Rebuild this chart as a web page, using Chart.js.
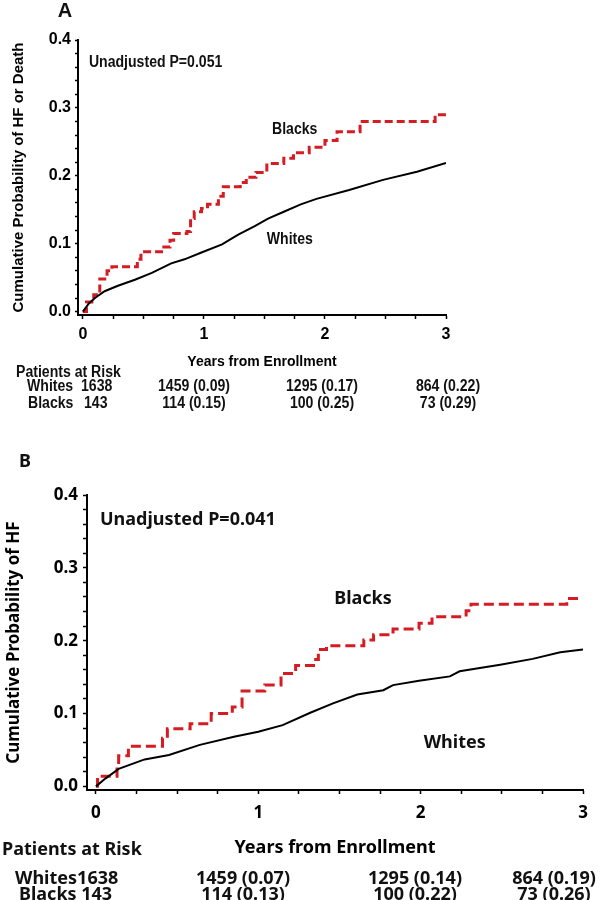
<!DOCTYPE html>
<html>
<head>
<meta charset="utf-8">
<script src="https://cdn.jsdelivr.net/npm/chart.js@4.4.1/dist/chart.umd.min.js"></script>
<style>
  html, body { margin: 0; padding: 0; background: #fff; }
  #page { position: relative; width: 600px; height: 900px; overflow: hidden; }
  canvas { position: absolute; left: 0; }
  .t { position: absolute; white-space: nowrap; line-height: 20px; height: 20px; color: #111; }
  .fa { font-family: 'Liberation Sans', Arial, sans-serif; font-weight: bold; font-size: 16px; }
  .fb { font-family: 'Noto Sans', sans-serif; font-weight: bold; font-size: 18px; }
  .c { transform: translateX(-50%); }
  .fa.sq { transform-origin: 0 50%; transform: scaleX(0.88); }
  .fa.sq.c { transform-origin: 50% 50%; transform: translateX(-50%) scaleX(0.88); }
</style>
</head>
<body>
<div id="page">
  <canvas id="chartA" width="600" height="420" style="top:0"></canvas>
  <canvas id="chartB" width="600" height="460" style="top:440px"></canvas>
</div>
<script>
// panel A: HF or death
const aBlacksT = [0, 0.03, 0.09, 0.14, 0.2, 0.24, 0.45, 0.48, 0.65, 0.72, 0.75, 0.86, 0.89, 0.92, 0.98, 1.03, 1.12, 1.16, 1.3, 1.35, 1.43, 1.52, 1.66, 1.74, 1.87, 2.0, 2.1, 2.29, 2.91, 3.0];
const aBlacksP = [0, 0.014, 0.025, 0.048, 0.06, 0.066, 0.077, 0.088, 0.095, 0.105, 0.115, 0.118, 0.137, 0.147, 0.152, 0.158, 0.17, 0.184, 0.19, 0.198, 0.205, 0.218, 0.226, 0.234, 0.242, 0.252, 0.265, 0.28, 0.29, 0.29];
const aWhitesT = [0, 0.05, 0.1, 0.18, 0.29, 0.43, 0.57, 0.73, 0.84, 0.98, 1.15, 1.28, 1.42, 1.53, 1.66, 1.8, 1.93, 2.2, 2.48, 2.76, 3.0];
const aWhitesP = [0, 0.012, 0.02, 0.03, 0.038, 0.047, 0.057, 0.071, 0.077, 0.087, 0.099, 0.113, 0.126, 0.137, 0.147, 0.158, 0.166, 0.179, 0.194, 0.206, 0.219];
const aRiskWhites = ['1459 (0.09)', '1295 (0.17)', '864 (0.22)'];
const aRiskBlacks = ['114 (0.15)', '100 (0.25)', '73 (0.29)'];

// panel B: HF
const bBlacksT = [0, 0.01, 0.13, 0.14, 0.2, 0.41, 0.44, 0.58, 0.71, 0.84, 0.9, 1.04, 1.14, 1.23, 1.34, 1.37, 1.42, 1.65, 1.71, 1.83, 1.99, 2.07, 2.28, 2.31, 2.9, 3.0];
const bBlacksP = [0, 0.014, 0.027, 0.042, 0.055, 0.066, 0.079, 0.086, 0.1, 0.109, 0.131, 0.139, 0.155, 0.166, 0.174, 0.188, 0.193, 0.201, 0.208, 0.216, 0.224, 0.233, 0.241, 0.25, 0.258, 0.258];
const bWhitesT = [0, 0.06, 0.14, 0.3, 0.45, 0.64, 0.85, 1.0, 1.15, 1.32, 1.46, 1.61, 1.77, 1.83, 1.99, 2.18, 2.24, 2.49, 2.69, 2.86, 3.0];
const bWhitesP = [0, 0.011, 0.024, 0.037, 0.043, 0.057, 0.068, 0.075, 0.084, 0.101, 0.114, 0.126, 0.132, 0.139, 0.145, 0.151, 0.158, 0.167, 0.175, 0.184, 0.188];
const bRiskWhites = ['1459 (0.07)', '1295 (0.14)', '864 (0.19)'];
const bRiskBlacks = ['114 (0.13)', '100 (0.22)', '73 (0.26)'];

const xTickValues = [0, 0.25, 0.5, 0.75, 1, 1.25, 1.5, 1.75, 2, 2.25, 2.5, 2.75, 3];
const yTickValues = [0, 0.02, 0.04, 0.06, 0.08, 0.1, 0.12, 0.14, 0.16, 0.18, 0.2, 0.22, 0.24, 0.26, 0.28, 0.3, 0.32, 0.34, 0.36, 0.38, 0.4];

const RED = 'rgb(212,28,34)';
const FONT_A = "'Liberation Sans', Arial, sans-serif";
const FONT_B = "'Noto Sans', sans-serif";

const zip = (ts, ps) => ts.map((t, i) => ({ x: t, y: ps[i] }));
const isMajorY = v => Math.abs(v * 10 - Math.round(v * 10)) < 1e-9;

// text notes placed in data units, optionally squeezed horizontally
function notesPlugin(items, font, squeeze) {
  return {
    id: 'notes',
    afterDraw(chart) {
      const { ctx, scales: { x, y } } = chart;
      ctx.save();
      ctx.font = font;
      ctx.fillStyle = '#111';
      ctx.textBaseline = 'middle';
      items.forEach(n => {
        ctx.save();
        ctx.translate(x.getPixelForValue(n.x), y.getPixelForValue(n.y));
        ctx.scale(squeeze, 1);
        ctx.textAlign = n.align || 'center';
        ctx.fillText(n.text, 0, 0);
        ctx.restore();
      });
      ctx.restore();
    },
  };
}

function kmChart(id, o) {
  return new Chart(document.getElementById(id), {
    type: 'line',
    data: {
      datasets: [
        {
          label: 'Whites',
          data: zip(o.whT, o.whP),
          borderColor: '#000',
          borderWidth: 2,
          pointRadius: 0,
          tension: 0,
        },
        {
          label: 'Blacks',
          data: zip(o.blT, o.blP),
          borderColor: RED,
          borderWidth: 3,
          borderDash: o.dash,
          pointRadius: 0,
          stepped: true,
        },
      ],
    },
    options: {
      responsive: false,
      animation: false,
      events: [],
      layout: { padding: o.pad },
      plugins: { legend: { display: false }, tooltip: { enabled: false } },
      scales: {
        x: {
          type: 'linear',
          min: o.xMin,
          max: 3,
          afterBuildTicks: s => { s.ticks = xTickValues.map(v => ({ value: v })); },
          afterFit: s => { s.height = o.xH; },
          grid: { drawOnChartArea: false, tickLength: 4, tickColor: '#000', tickWidth: 1.5 },
          border: { color: '#000', width: 2 },
          ticks: {
            autoSkip: false, maxRotation: 0, padding: o.xPad, color: '#000', font: o.tickFont,
            callback: v => Number.isInteger(v) ? String(v) : '',
          },
          title: { display: true, text: 'Years from Enrollment', color: '#000', font: o.titleFont, padding: { top: 0, bottom: o.xTitlePad } },
        },
        y: {
          type: 'linear',
          min: -0.005,
          max: 0.4,
          afterBuildTicks: s => { s.ticks = yTickValues.map(v => ({ value: v })); },
          afterFit: s => { s.width = o.yW; },
          grid: { drawOnChartArea: false, tickLength: o.yTick, tickColor: '#000', tickWidth: 1.5 },
          border: { color: '#000', width: 2 },
          ticks: {
            autoSkip: false, padding: o.yPad, color: '#000', font: o.tickFont,
            callback: v => isMajorY(v) ? v.toFixed(1) : '',
          },
          title: { display: true, text: o.yTitle, color: '#000', font: o.yTitleFont, padding: { top: o.yTitlePad, bottom: 0 } },
        },
      },
    },
    plugins: [notesPlugin(o.notes, o.noteFont, o.squeeze)],
  });
}

kmChart('chartA', {
  whT: aWhitesT, whP: aWhitesP, blT: aBlacksT, blP: aBlacksP,
  dash: [8, 4],
  pad: { left: 0, top: 40, right: 154, bottom: 45 },
  xMin: -0.04, xH: 60, yW: 78, xPad: 6, yPad: 4, yTick: 3,
  xTitlePad: 4, yTitlePad: 10,
  tickFont: { family: FONT_A, size: 16, weight: 'bold' },
  titleFont: { family: FONT_A, size: 14, weight: 'bold' },
  yTitleFont: { family: FONT_A, size: 15, weight: 'bold' },
  yTitle: 'Cumulative Probability of HF or Death',
  noteFont: "bold 16px " + FONT_A,
  squeeze: 0.88,
  notes: [
    { text: 'Unadjusted P=0.051', x: 0.05, y: 0.366, align: 'left' },
    { text: 'Blacks', x: 1.75, y: 0.268 },
    { text: 'Whites', x: 1.71, y: 0.106 },
  ],
});

kmChart('chartB', {
  whT: bWhitesT, whP: bWhitesP, blT: bBlacksT, blP: bBlacksP,
  dash: [10, 5],
  pad: { left: 0, top: 55, right: 17, bottom: 30 },
  xMin: -0.055, xH: 80, yW: 87, xPad: 9, yPad: 5, yTick: 4,
  xTitlePad: 11, yTitlePad: 4,
  tickFont: { family: FONT_B, size: 17, weight: 'bold' },
  titleFont: { family: FONT_B, size: 18, weight: 'bold' },
  yTitleFont: { family: FONT_B, size: 17, weight: 'bold' },
  yTitle: 'Cumulative Probability of HF',
  noteFont: "bold 18px " + FONT_B,
  squeeze: 1,
  notes: [
    { text: 'Unadjusted P=0.041', x: 0.025, y: 0.366, align: 'left' },
    { text: 'Blacks', x: 1.645, y: 0.257 },
    { text: 'Whites', x: 2.21, y: 0.06 },
  ],
});

// panel letters and at-risk tables
const page = document.getElementById('page');
function addText(cls, text, x, cy, centered) {
  const d = document.createElement('div');
  d.className = 't ' + cls + (centered ? ' c' : '');
  d.textContent = text;
  d.style.left = x + 'px';
  d.style.top = (cy - 10) + 'px';
  page.appendChild(d);
  return d;
}

addText('fa', 'A', 65, 10, true).style.fontSize = '20px';
addText('fa sq', 'Patients at Risk', 16, 372);
addText('fa sq', 'Whites', 27, 386);
addText('fa sq', '1638', 81, 386);
addText('fa sq', 'Blacks', 28, 403);
addText('fa sq', '143', 84, 403);
[194, 322, 448].forEach((cx, i) => {
  addText('fa sq', aRiskWhites[i], cx, 386, true);
  addText('fa sq', aRiskBlacks[i], cx, 403, true);
});

addText('fb', 'B', 25, 460, true);
addText('fb', 'Patients at Risk', 2, 848);
addText('fb', 'Whites1638', 15, 877);
addText('fb', 'Blacks 143', 19, 893);
[243, 415, 554].forEach((cx, i) => {
  addText('fb', bRiskWhites[i], cx, 877, true);
  addText('fb', bRiskBlacks[i], cx, 893, true);
});
</script>
</body>
</html>
